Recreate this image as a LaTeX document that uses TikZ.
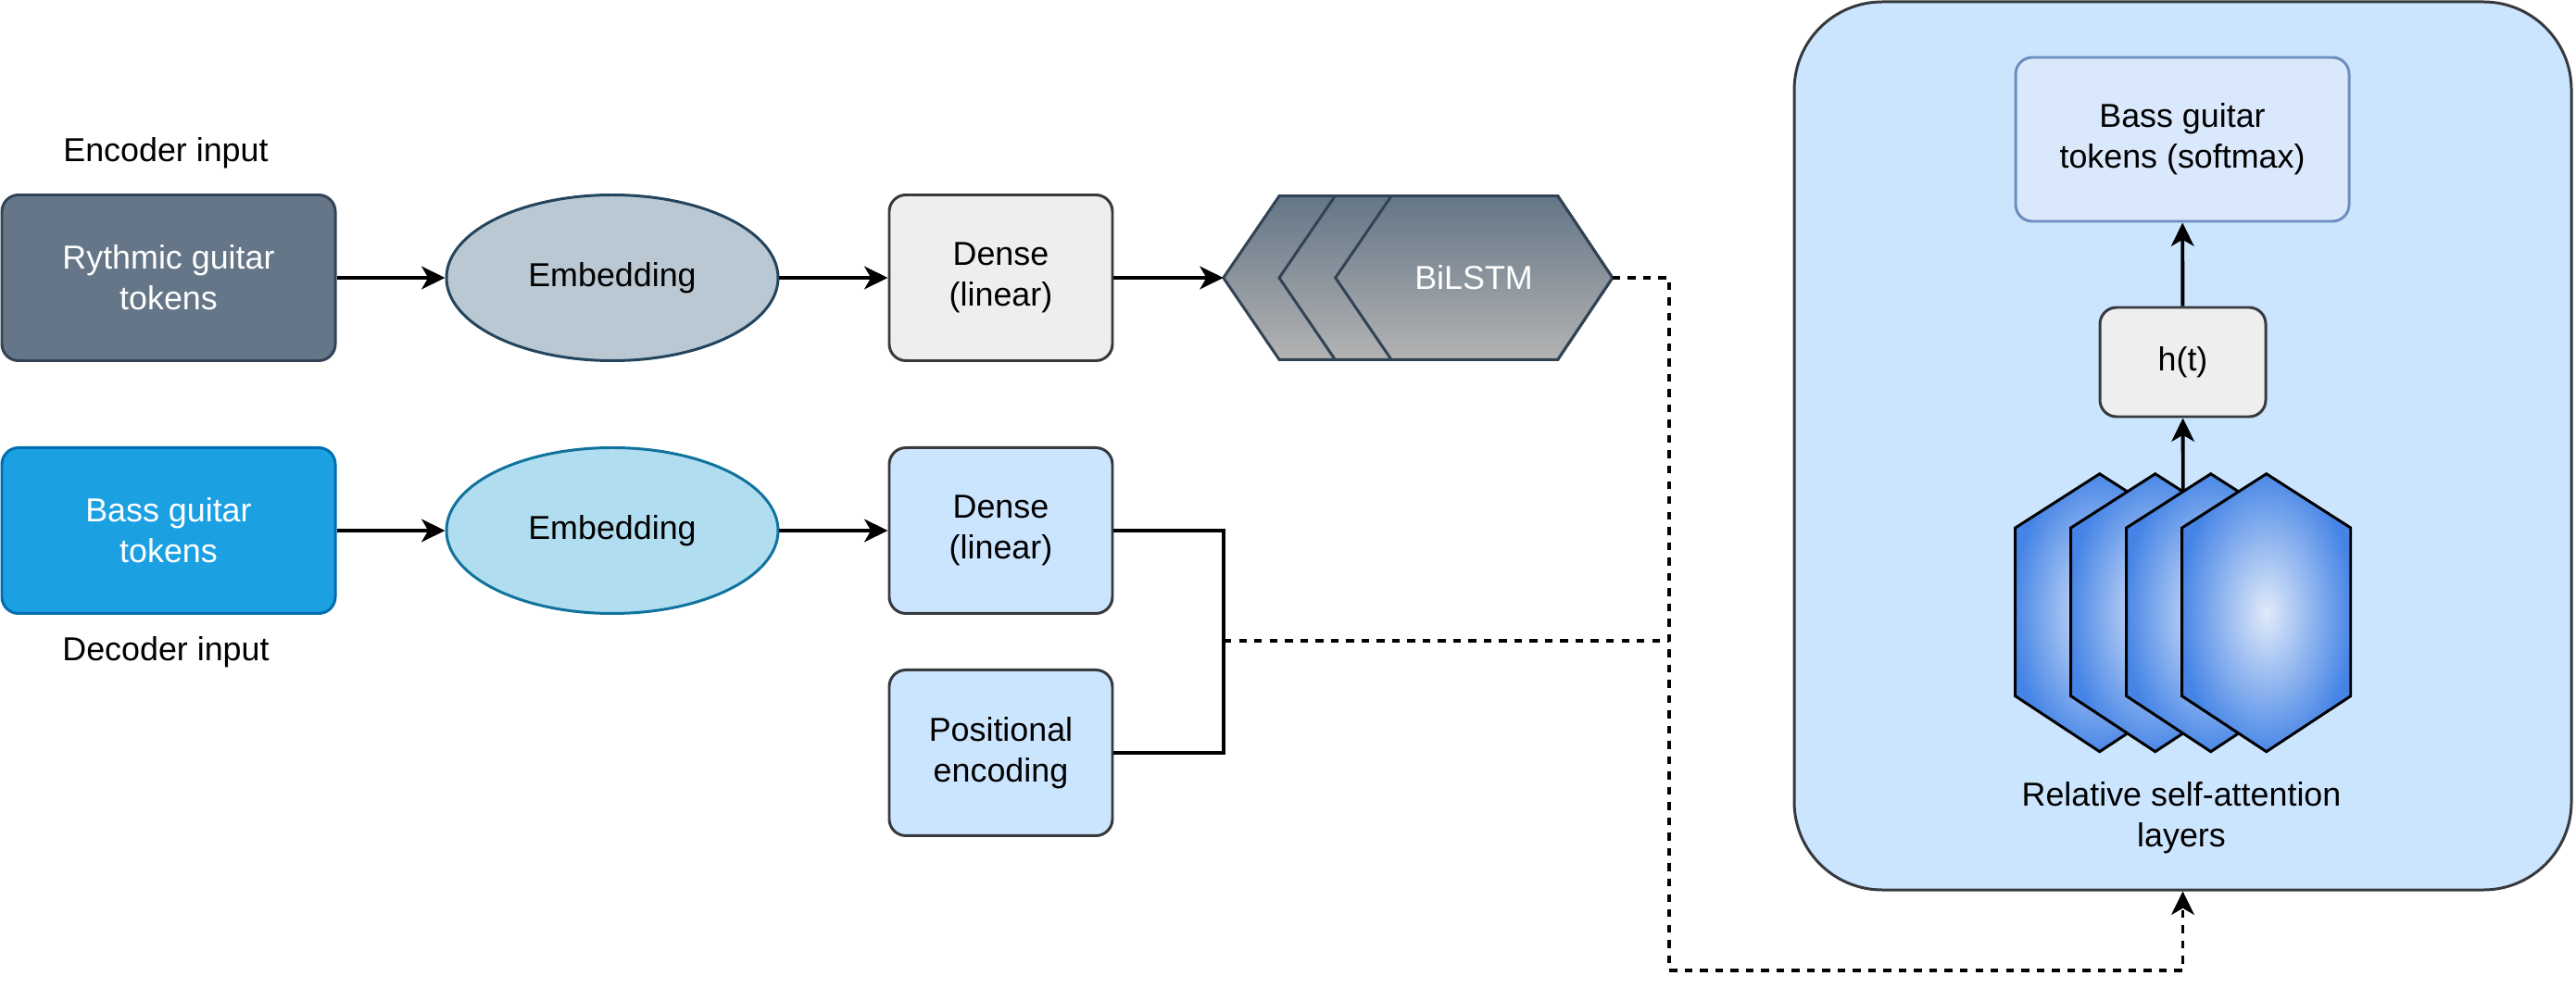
\documentclass[tikz,border=0pt]{standalone}
\usepackage{fontspec}
\setmainfont{Liberation Sans}
\usetikzlibrary{positioning, shapes.geometric, arrows.meta, calc}

\definecolor{rythmfill}{HTML}{647687}
\definecolor{rythmline}{HTML}{314354}
\definecolor{embfill}{HTML}{BAC8D3}
\definecolor{embline}{HTML}{23445D}
\definecolor{densefill}{HTML}{EEEEEE}
\definecolor{greyline}{HTML}{36393D}
\definecolor{bassfill}{HTML}{1BA1E2}
\definecolor{bassline}{HTML}{006EAF}
\definecolor{bembfill}{HTML}{B1DDF0}
\definecolor{bembline}{HTML}{10739E}
\definecolor{lightblue}{HTML}{CCE5FF}
\definecolor{softfill}{HTML}{DAE8FC}
\definecolor{softline}{HTML}{6C8EBF}
\definecolor{lstmbottom}{HTML}{B3B3B3}
\definecolor{hexin}{HTML}{E0EAF9}
\definecolor{hexout}{HTML}{4584E6}

\pgfdeclareradialshading{hexglow}{\pgfpoint{0bp}{0bp}}{color(0bp)=(hexin); color(26bp)=(hexout); color(100bp)=(hexout)}

\begin{document}
\begin{tikzpicture}[
    every node/.style={font=\fontsize{10.2}{12.6}\selectfont},
    tokbox/.style={draw, rectangle, rounded corners=0.18cm, minimum width=3.6cm, minimum height=1.79cm, align=center, line width=0.85pt, text=white},
    embed/.style={draw, ellipse, minimum width=3.58cm, minimum height=1.79cm, line width=0.85pt},
    densebox/.style={draw=greyline, rectangle, rounded corners=0.18cm, minimum width=2.41cm, minimum height=1.79cm, align=center, line width=0.85pt},
    flow/.style={-{Stealth[length=7.2pt, width=7pt, inset=2pt]}, line width=1.1pt},
    feed/.style={dash pattern=on 2.4pt off 2.3pt, line width=1.1pt}
]
    \useasboundingbox (0,0) rectangle (27.81,-10.80);

    % encoder branch
    \node (enclabel) at (1.79,-1.65) {Encoder input};
    \node[tokbox, fill=rythmfill, draw=rythmline] (rythm) at (1.82,-3.00) {Rythmic guitar\\tokens};
    \node[embed, fill=embfill, draw=embline, right=1.17cm of rythm] (emb1) {Embedding};
    \node[densebox, fill=densefill, right=1.17cm of emb1] (dense1) {Dense\\(linear)};

    \foreach \dx in {0, 0.603, 1.21} {
        \shadedraw[top color=rythmfill, bottom color=lstmbottom, draw=rythmline, line width=0.85pt]
            (13.207+\dx,-3.00) -- (13.81+\dx,-2.117) -- (16.817,-2.117) -- (17.407,-3.00)
            -- (16.817,-3.883) -- (13.81+\dx,-3.883) -- cycle;
    }
    \node[minimum width=4.2cm, minimum height=1.77cm, inner sep=0, outer sep=0] (bilstm) at (15.307,-3.00) {};
    \node[text=white] (lstmtext) at (15.91,-3.00) {BiLSTM};

    % decoder branch
    \node[tokbox, fill=bassfill, draw=bassline, below=0.91cm of rythm] (bass) {Bass guitar\\tokens};
    \node (declabel) at (1.79,-7.04) {Decoder input};
    \node[embed, fill=bembfill, draw=bembline, right=1.17cm of bass] (emb2) {Embedding};
    \node[densebox, fill=lightblue, right=1.17cm of emb2] (dense2) {Dense\\(linear)};
    \node[densebox, fill=lightblue, below=0.58cm of dense2] (posenc) {Positional\\encoding};

    % attention block
    \node[draw=greyline, fill=lightblue, rounded corners=0.95cm, minimum width=8.39cm, minimum height=9.59cm, line width=0.85pt] (attn) at (23.565,-4.815) {};
    \node[draw=softline, fill=softfill, rounded corners=0.18cm, minimum width=3.6cm, minimum height=1.77cm, align=center, line width=0.85pt] (softmax) at (23.56,-1.505) {Bass guitar\\tokens (softmax)};
    \node[densebox, fill=densefill, minimum width=1.79cm, minimum height=1.18cm] (ht) at (23.565,-3.91) {h(t)};

    \foreach \cx in {22.667, 23.267, 23.867, 24.467} {
        \shadedraw[shading=hexglow, line width=0.85pt]
            (\cx,-5.117) -- (\cx+0.91,-5.70) -- (\cx+0.91,-7.517) -- (\cx,-8.117)
            -- (\cx-0.91,-7.517) -- (\cx-0.91,-5.70) -- cycle;
    }
    \node[align=center] (layerlabel) at (23.55,-8.83) {Relative self-attention\\layers};
    \coordinate (attnin) at (23.567,-5.31);

    % connectors
    \draw[flow] (rythm) -- (emb1);
    \draw[flow] (emb1) -- (dense1);
    \draw[flow] (dense1) -- (bilstm);
    \draw[flow] (bass) -- (emb2);
    \draw[flow] (emb2) -- (dense2);
    \draw[flow] (attnin) -- (ht);
    \draw[flow] (ht) -- (softmax);

    \coordinate (join) at (13.21,-6.92);
    \coordinate (bus) at (18.02,-10.48);
    \draw[line width=1.1pt] (dense2.east) -| (join) |- (posenc.east);
    \draw[feed] (join) -- (join -| bus);
    \draw[feed, flow] (bilstm.east) -| (bus) -| (attn.south);
\end{tikzpicture}
\end{document}
